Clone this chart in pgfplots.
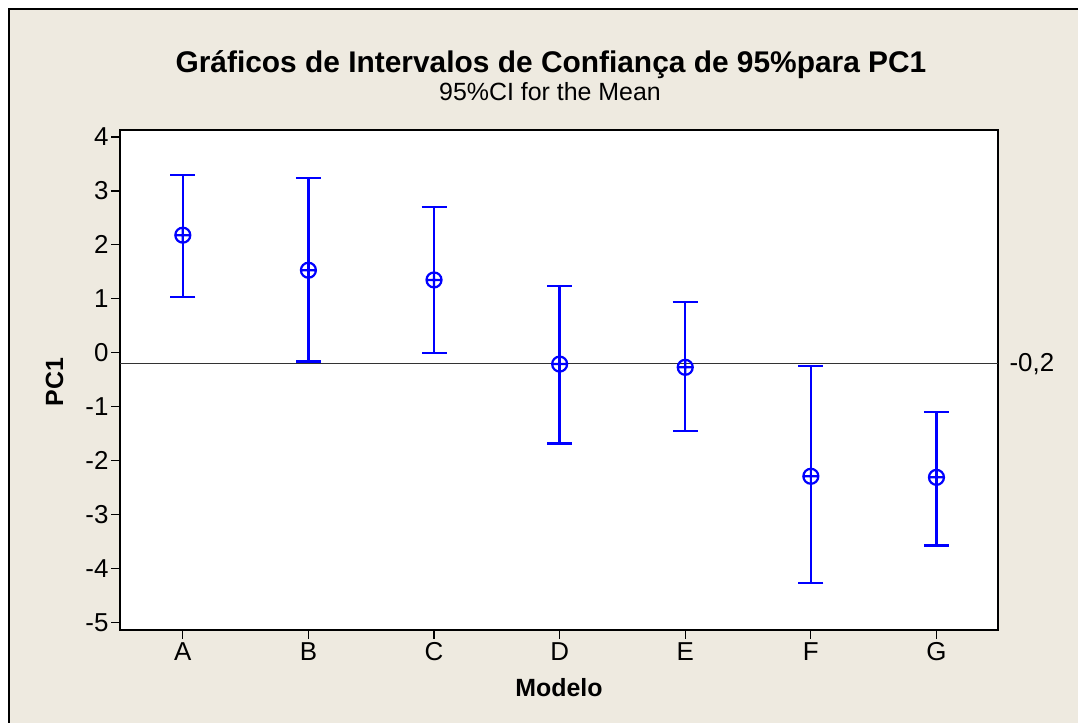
\documentclass[border=0pt]{standalone}
\usepackage{pgfplots}
\usepackage{pgfplotstable}
\usepackage{fontspec}
\setmainfont{Liberation Sans}
\pgfplotsset{compat=1.18}
\definecolor{panel}{RGB}{238,234,224}

% 95% CI for the mean of PC1, by model
\pgfplotstableread{
x mean upper lower
0  2.18  3.30  1.03
1  1.53  3.24 -0.16
2  1.35  2.70 -0.01
3 -0.21  1.24 -1.68
4 -0.27  0.94 -1.45
5 -2.29 -0.25 -4.27
6 -2.31 -1.10 -3.57
}\citable

\begin{document}
\begin{tikzpicture}[x=1bp,y=1bp]
\path[use as bounding box] (0,0) rectangle (1078,723);
\fill[panel] (9,0) rectangle (1078,714);
\draw[black, line width=2bp] (9,-2) -- (9,714) -- (1080,714);

\begin{axis}[
  at={(120bp,93bp)}, anchor=south west,
  width=878bp, height=500bp, scale only axis,
  xmin=-0.5, xmax=6.49, ymin=-5.14, ymax=4.13,
  axis background/.style={fill=white},
  axis line style={line width=1.5bp, black},
  xtick={0,...,6}, xticklabels={A,B,C,D,E,F,G},
  ytick={-5,...,4}, yticklabels={-5,-4,-3,-2,-1,0,1,2,3,4},
  xtick pos=bottom, ytick pos=left,
  tick align=outside, major tick length=9bp,
  tick style={line width=1.2bp, black},
  ticklabel style={font=\fontsize{26}{30}\selectfont},
  yticklabel style={xshift=1bp},
  clip=false,
]
\addplot[black!80, line width=1.8bp, forget plot] coordinates {(-0.5,-0.2) (6.49,-0.2)};
\addplot[only marks, mark=oplus, mark size=7.5bp, blue, line width=2.2bp,
  error bars/.cd, y dir=both, y explicit,
  error bar style={blue, line width=2.4bp},
  error mark options={blue, line width=2.4bp, mark size=12.5bp, rotate=90}]
  table[x=x, y=mean,
    y error plus expr=\thisrow{upper}-\thisrow{mean},
    y error minus expr=\thisrow{mean}-\thisrow{lower}] {\citable};
\end{axis}

\node[anchor=base, font=\fontsize{30}{36}\selectfont\bfseries] at (551,650) {Gráficos de Intervalos de Confiança de 95\%para PC1};
\node[anchor=base, font=\fontsize{25}{30}\selectfont] at (550,622) {95\%CI for the Mean};
\node[anchor=base, rotate=90, font=\fontsize{25}{30}\selectfont\bfseries] at (63,341) {PC1};
\node[anchor=base, font=\fontsize{25}{30}\selectfont\bfseries] at (559,26) {Modelo};
\node[anchor=west, font=\fontsize{26}{30}\selectfont] at (1006,359) {-0,2};
\end{tikzpicture}
\end{document}
